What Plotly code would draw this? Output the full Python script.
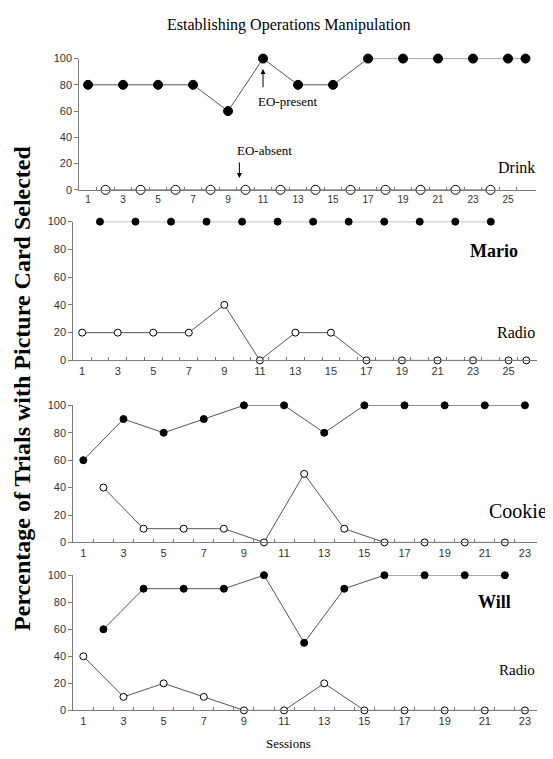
import plotly.graph_objects as go

# ---------------- data ----------------
# Panel 1 (Mario, Drink)
p1_filled_x = [1, 3, 5, 7, 9, 11, 13, 15, 17, 19, 21, 23, 25, 26]
p1_filled_y = [80, 80, 80, 80, 60, 100, 80, 80, 100, 100, 100, 100, 100, 100]
p1_open_x = [2, 4, 6, 8, 10, 12, 14, 16, 18, 20, 22, 24]
p1_open_y = [0, 0, 0, 0, 0, 0, 0, 0, 0, 0, 0, 0]

# Panel 2 (Mario, Radio)
p2_filled_x = [2, 4, 6, 8, 10, 12, 14, 16, 18, 20, 22, 24]
p2_filled_y = [100, 100, 100, 100, 100, 100, 100, 100, 100, 100, 100, 100]
p2_open_x = [1, 3, 5, 7, 9, 11, 13, 15, 17, 19, 21, 23, 25, 26]
p2_open_y = [20, 20, 20, 20, 40, 0, 20, 20, 0, 0, 0, 0, 0, 0]

# Panel 3 (Will, Cookie)
p3_filled_x = [1, 3, 5, 7, 9, 11, 13, 15, 17, 19, 21, 23]
p3_filled_y = [60, 90, 80, 90, 100, 100, 80, 100, 100, 100, 100, 100]
p3_open_x = [2, 4, 6, 8, 10, 12, 14, 16, 18, 20, 22]
p3_open_y = [40, 10, 10, 10, 0, 50, 10, 0, 0, 0, 0]

# Panel 4 (Will, Radio)
p4_filled_x = [2, 4, 6, 8, 10, 12, 14, 16, 18, 20, 22]
p4_filled_y = [60, 90, 90, 90, 100, 50, 90, 100, 100, 100, 100]
p4_open_x = [1, 3, 5, 7, 9, 11, 13, 15, 17, 19, 21, 23]
p4_open_y = [40, 10, 20, 10, 0, 0, 20, 0, 0, 0, 0, 0]

y_ticks = [0, 20, 40, 60, 80, 100]
x_ticks_26 = list(range(1, 27, 2))
x_ticks_23 = list(range(1, 24, 2))

# ---------------- layout helpers ----------------
# The page body keeps its default 8px margin, so the figure is drawn 8px in
# from the top-left corner of the window; positions below are window pixels.
VW, VH = 553, 759
OFF = 8
W, H = VW - OFF, VH - OFF
SANS = "Liberation Sans, Arial, sans-serif"
SERIF = "Liberation Serif, Times New Roman, serif"
AXCOL = "#7a7a7a"
LINECOL = "#555555"
TXTCOL = "#333333"


def px_x(p):
    return (p - OFF) / W


def px_y(p):
    return 1 - (p - OFF) / H


def xdom(a, b):
    return [px_x(a), px_x(b)]


def ydom(top, bottom):
    return [px_y(bottom), px_y(top)]


panels = [
    # filled x, filled y, open x, open y, x px domain, y px domain (top,bottom), x range, x ticks, marker size, x tick font
    (p1_filled_x, p1_filled_y, p1_open_x, p1_open_y, (79.3, 536), (53.3, 186.7), [0.5, 26.6], x_ticks_26, 9, 10),
    (p2_filled_x, p2_filled_y, p2_open_x, p2_open_y, (73.3, 537), (219, 360), [0.5, 26.6], x_ticks_26, 7, 11),
    (p3_filled_x, p3_filled_y, p3_open_x, p3_open_y, (73.3, 537), (405.7, 545), [0.5, 23.6], x_ticks_23, 7, 11),
    (p4_filled_x, p4_filled_y, p4_open_x, p4_open_y, (73.3, 537), (578.3, 715.7), [0.5, 23.6], x_ticks_23, 7, 11),
]

fig = go.Figure()
layout_axes = {}
for i, (fx, fy, ox, oy, xd, yd, xr, xt, ms, fs) in enumerate(panels, start=1):
    xa = "x" if i == 1 else f"x{i}"
    ya = "y" if i == 1 else f"y{i}"
    fig.add_trace(go.Scatter(
        x=ox, y=oy, xaxis=xa, yaxis=ya, mode="lines+markers",
        line=dict(color=LINECOL, width=1),
        marker=dict(symbol="circle", size=ms, color="white", line=dict(color="black", width=1)),
        cliponaxis=False, showlegend=False, hoverinfo="skip"))
    fig.add_trace(go.Scatter(
        x=fx, y=fy, xaxis=xa, yaxis=ya, mode="lines+markers",
        line=dict(color=LINECOL, width=1),
        marker=dict(symbol="circle", size=ms, color="black", line=dict(color="black", width=1)),
        cliponaxis=False, showlegend=False, hoverinfo="skip"))
    minor_vals = [v + 0.5 for v in range(1, int(xr[1]))]
    layout_axes["xaxis" if i == 1 else f"xaxis{i}"] = dict(
        domain=xdom(*xd), range=xr, anchor=ya,
        showline=True, linecolor=AXCOL, linewidth=1, showgrid=False, zeroline=False,
        tickmode="array", tickvals=xt, ticktext=[str(v) for v in xt], ticks="",
        tickfont=dict(family=SANS, size=fs, color=TXTCOL),
        minor=dict(tickvals=minor_vals, ticks="inside", ticklen=3, tickcolor=AXCOL, tickwidth=1),
    )
    layout_axes["yaxis" if i == 1 else f"yaxis{i}"] = dict(
        domain=ydom(*yd), range=[0, 100], anchor=xa,
        showline=True, linecolor=AXCOL, linewidth=1, showgrid=False, zeroline=False,
        tickmode="array", tickvals=y_ticks, ticktext=[str(v) for v in y_ticks],
        ticks="outside", ticklen=4, tickcolor=AXCOL,
        tickfont=dict(family=SANS, size=11, color=TXTCOL),
    )

fig.update_layout(
    width=W, height=H, margin=dict(l=0, r=0, t=0, b=0),
    paper_bgcolor="white", plot_bgcolor="white", hovermode=False, dragmode=False,
    **layout_axes,
)

ann = []
# Title
ann.append(dict(text="Establishing Operations Manipulation", xref="paper", yref="paper",
                x=px_x(289), y=px_y(19), xanchor="center", yanchor="middle", showarrow=False,
                font=dict(family=SERIF, size=16, color="black")))
# Y title
ann.append(dict(text="<b>Percentage of Trials with Picture Card Selected</b>", xref="paper", yref="paper",
                x=px_x(22), y=px_y(389), xanchor="center", yanchor="middle", showarrow=False, textangle=-90,
                font=dict(family=SERIF, size=24, color="black")))
# Sessions
ann.append(dict(text="Sessions", xref="paper", yref="paper", x=px_x(288), y=px_y(749),
                xanchor="center", yanchor="middle",
                showarrow=False, font=dict(family=SERIF, size=13, color="black")))
# Panel labels
ann.append(dict(text="Drink", xref="paper", yref="y", x=px_x(537), y=17, xanchor="right",
                showarrow=False, font=dict(family=SERIF, size=16, color="black")))
ann.append(dict(text="<b>Mario</b>", xref="paper", yref="y2", x=px_x(493.5), y=79, xanchor="center",
                showarrow=False, font=dict(family=SERIF, size=18, color="black")))
ann.append(dict(text="Radio", xref="paper", yref="y2", x=px_x(537), y=20, xanchor="right",
                showarrow=False, font=dict(family=SERIF, size=16, color="black")))
ann.append(dict(text="Cookie", xref="paper", yref="y3", x=px_x(487), y=23, xanchor="left",
                showarrow=False, font=dict(family=SERIF, size=20, color="black")))
ann.append(dict(text="<b>Will</b>", xref="paper", yref="y4", x=px_x(494.5), y=80.5, xanchor="center",
                showarrow=False, font=dict(family=SERIF, size=18, color="black")))
ann.append(dict(text="Radio", xref="paper", yref="y4", x=px_x(537), y=30, xanchor="right",
                showarrow=False, font=dict(family=SERIF, size=15, color="black")))
# EO annotations
ann.append(dict(text="EO-present", xref="x", yref="y", x=12.4, y=67, xanchor="center",
                showarrow=False, font=dict(family=SERIF, size=13, color="black")))
ann.append(dict(text="", xref="x", yref="y", x=11, y=92, ax=11, ay=77, axref="x", ayref="y",
                showarrow=True, arrowhead=2, arrowsize=1, arrowwidth=1, arrowcolor="black"))
ann.append(dict(text="EO-absent", xref="x", yref="y", x=11.06, y=30, xanchor="center",
                showarrow=False, font=dict(family=SERIF, size=13, color="black")))
ann.append(dict(text="", xref="x", yref="y", x=9.65, y=9, ax=9.65, ay=22, axref="x", ayref="y",
                showarrow=True, arrowhead=2, arrowsize=1, arrowwidth=1, arrowcolor="black"))
fig.update_layout(annotations=ann)

# make sure every tick label plotly drew stays visible
unhide_js = (
    "document.querySelectorAll('.ytick text, .xtick text').forEach(function(t){"
    "t.style.display='';t.removeAttribute('display');t.style.opacity='1';"
    "t.style.visibility='visible';});"
)

fig.write_html("out.html", config={"displayModeBar": False, "staticPlot": True},
               post_script=unhide_js)
